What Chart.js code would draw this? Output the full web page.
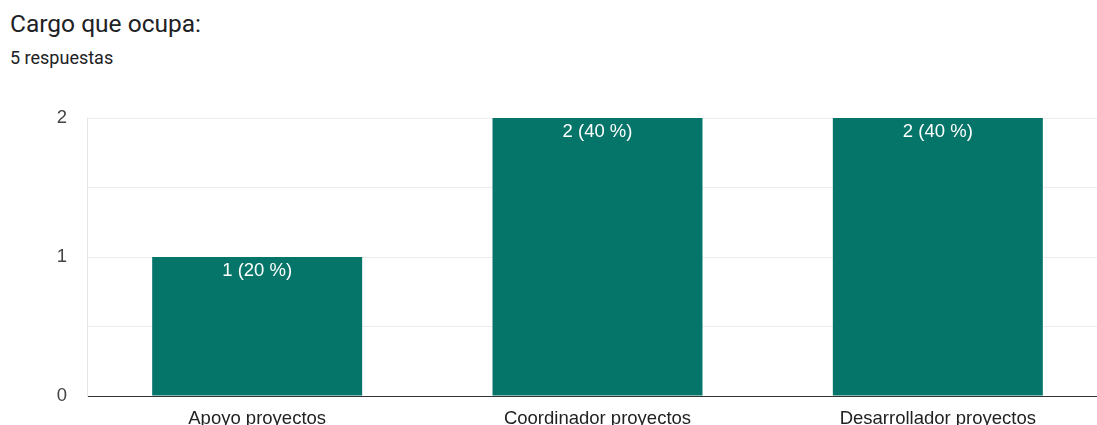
<!DOCTYPE html>
<html>
<head>
<meta charset="utf-8">
<title>Cargo que ocupa</title>
<script src="https://cdn.jsdelivr.net/npm/chart.js"></script>
<style>
    html, body { margin: 0; padding: 0; width: 1097px; height: 425px; overflow: hidden; background: #fff; }
    .title { position: absolute; left: 10px; top: 9px; font-family: Roboto, Arial, sans-serif; font-size: 24.5px; color: #202124; }
    .subtitle { position: absolute; left: 10px; top: 47px; font-family: Roboto, Arial, sans-serif; font-size: 18px; color: #202124; }
    .chart-box { position: absolute; left: 0; top: 87px; width: 1110px; height: 353px; }
</style>
</head>
<body>
<div class="title">Cargo que ocupa:</div>
<div class="subtitle">5 respuestas</div>
<div class="chart-box"><canvas id="cargoChart"></canvas></div>

<script>
    // Data
    const categories = ['Apoyo proyectos', 'Coordinador proyectos', 'Desarrollador proyectos'];
    const counts = [1, 2, 2];
    const percents = [20, 40, 40];
    const yTicks = [0, 1, 2];

    // Writes "n (p %)" inside the top of every bar
    const barLabels = {
        id: 'barLabels',
        afterDatasetsDraw(chart) {
            const ctx = chart.ctx;
            const meta = chart.getDatasetMeta(0);
            ctx.save();
            ctx.fillStyle = '#ffffff';
            ctx.font = '18.5px Arial, "Liberation Sans", sans-serif';
            ctx.textAlign = 'center';
            ctx.textBaseline = 'middle';
            meta.data.forEach((bar, i) => {
                ctx.fillText(counts[i] + ' (' + percents[i] + ' %)', bar.x, bar.y + 14);
            });
            ctx.restore();
        }
    };

    new Chart(document.getElementById('cargoChart'), {
        type: 'bar',
        data: {
            labels: categories,
            datasets: [{
                data: counts,
                backgroundColor: '#05756a',
                barPercentage: 0.617,
                categoryPercentage: 1
            }]
        },
        options: {
            responsive: true,
            maintainAspectRatio: false,
            animation: false,
            layout: { padding: { top: 8, right: 2, left: 0, bottom: 0 } },
            plugins: { legend: { display: false }, tooltip: { enabled: false } },
            scales: {
                x: {
                    grid: { display: false },
                    border: { color: '#333333', width: 1 },
                    ticks: {
                        color: '#222222',
                        padding: 4,
                        font: { family: 'Arial, "Liberation Sans", sans-serif', size: 18.5 }
                    },
                    afterFit(scale) { scale.height = 44; }
                },
                y: {
                    min: 0,
                    max: 2,
                    grid: { color: '#ececec', drawTicks: false },
                    border: { color: '#e6e6e6' },
                    ticks: {
                        stepSize: 0.5,
                        padding: 20,
                        color: '#444444',
                        font: { family: 'Arial, "Liberation Sans", sans-serif', size: 18.5 },
                        callback: (v) => yTicks.includes(v) ? String(v) : ''
                    },
                    afterFit(scale) { scale.width = 87; }
                }
            }
        },
        plugins: [barLabels]
    });
</script>
</body>
</html>
